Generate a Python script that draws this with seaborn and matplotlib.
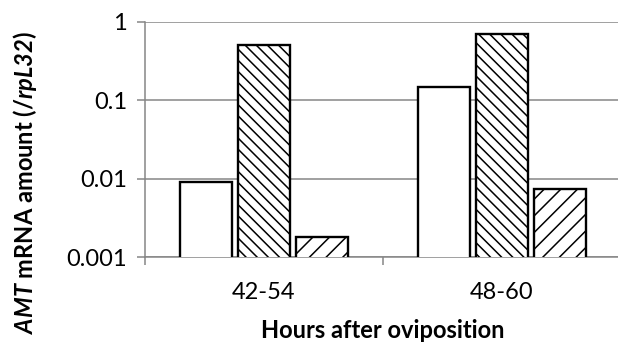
import matplotlib
matplotlib.use("Agg")
import matplotlib.pyplot as plt
import seaborn as sns
import pandas as pd
from matplotlib.ticker import FixedLocator, FixedFormatter, NullFormatter

categories = ["42-54", "48-60"]
series_names = ["Series 1", "Series 2", "Series 3"]
series1 = [0.0092, 0.146]
series2 = [0.51, 0.70]
series3 = [0.0018, 0.0073]
y_ticks = [0.001, 0.01, 0.1, 1]
y_tick_labels = ["0.001", "0.01", "0.1", "1"]
x_label = "Hours after oviposition"
y_label = r"$\mathbfit{AMT}$ mRNA amount (/$\mathbfit{rpL32}$)"

rows = []
for name, vals in zip(series_names, [series1, series2, series3]):
    for c, v in zip(categories, vals):
        rows.append({"cat": c, "series": name, "value": v})
df = pd.DataFrame(rows)

sns.set_theme(style="white")
plt.rcParams["font.family"] = ["Lato", "DejaVu Sans"]
plt.rcParams["mathtext.fontset"] = "custom"
plt.rcParams["mathtext.bfit"] = "Lato:bold:italic"
plt.rcParams["mathtext.bf"] = "Lato:bold"
plt.rcParams["mathtext.it"] = "Lato:italic"
plt.rcParams["mathtext.rm"] = "Lato"
plt.rcParams["hatch.linewidth"] = 1.1

W, H = 618, 346
fig = plt.figure(figsize=(W / 100, H / 100), dpi=100)
left, right, top, bottom = 145, 621, 22, 257
ax = fig.add_axes([left / W, (H - bottom) / H, (right - left) / W, (bottom - top) / H])

grey = "#868686"
sns.barplot(data=df, x="cat", y="value", hue="series", order=categories,
            hue_order=series_names, palette=["white"] * 3, width=0.731, gap=0.12,
            edgecolor="black", linewidth=1.7, legend=False,
            ax=ax, zorder=3)
ax.set_yscale("log")

hatches = [None, "\\\\\\", "//"]
for cont, h in zip(ax.containers, hatches):
    for p in cont:
        p.set_edgecolor("black")
        p.set_facecolor("white")
        if h:
            p.set_hatch(h)

ax.set_ylim(0.001, 1)
ax.set_xlim(-0.5, 1.5)
ax.yaxis.set_major_locator(FixedLocator(y_ticks))
ax.yaxis.set_major_formatter(FixedFormatter(y_tick_labels))
ax.yaxis.set_minor_locator(FixedLocator([]))
ax.yaxis.grid(True, color=grey, linewidth=1.1, zorder=0)
ax.set_axisbelow(True)

for s in ["top", "right"]:
    ax.spines[s].set_visible(False)
for s in ["left", "bottom"]:
    ax.spines[s].set_color(grey)
    ax.spines[s].set_linewidth(1.1)

ax.tick_params(axis="y", which="major", direction="out", length=6, width=1.1,
               color=grey, pad=7, labelsize=17, labelcolor="black", left=True)
ax.xaxis.set_minor_locator(FixedLocator([-0.5, 0.5, 1.5]))
ax.xaxis.set_minor_formatter(NullFormatter())
ax.tick_params(axis="x", which="minor", direction="out", length=6, width=1.1,
               color=grey, bottom=True)
ax.tick_params(axis="x", which="major", length=0, pad=18, labelsize=17,
               labelcolor="black")

ax.set_xlabel(x_label, fontsize=17, fontweight="bold", color="black")
ax.xaxis.set_label_coords(0.5, -0.265)
ax.set_ylabel(y_label, fontsize=17, fontweight="bold", color="black", va="center")
ax.yaxis.set_label_coords(-0.252, 0.315)

fig.savefig("out.png", dpi=100)
